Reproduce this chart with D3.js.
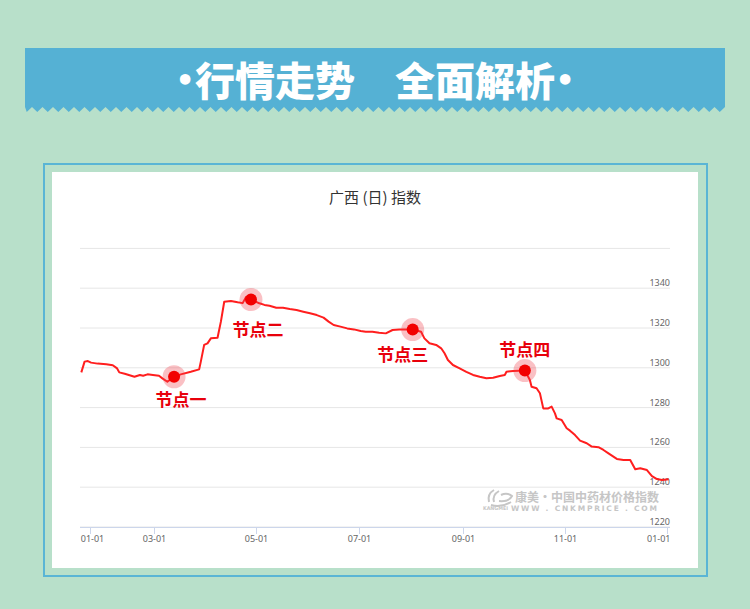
<!DOCTYPE html>
<html><head><meta charset="utf-8">
<script src="https://cdn.jsdelivr.net/npm/d3@7"></script>
<style>
html,body{margin:0;padding:0;background:#b8e0ca;}
svg{display:block;}
</style></head>
<body>
<svg id="chart" width="750" height="609"></svg>
<script>
// ---------- DATA ----------
const bannerTitle = "行情走势　全面解析";
const bannerBullet = "•";
const chartTitle = "广西 (日) 指数";
const dates = [
 "2018-12-24","2018-12-27","2018-12-30","2019-01-02","2019-01-08","2019-01-16","2019-01-22","2019-01-26","2019-01-28",
 "2019-02-02","2019-02-08","2019-02-11","2019-02-16","2019-02-19","2019-02-23","2019-02-28",
 "2019-03-04","2019-03-06","2019-03-09","2019-03-13","2019-03-17","2019-03-23","2019-03-28","2019-03-29","2019-03-31",
 "2019-04-02","2019-04-04","2019-04-08","2019-04-10","2019-04-12","2019-04-16","2019-04-20","2019-04-23","2019-04-25","2019-04-28",
 "2019-05-03","2019-05-06","2019-05-09","2019-05-13","2019-05-17","2019-05-21","2019-05-25","2019-05-29",
 "2019-06-02","2019-06-06","2019-06-10","2019-06-13","2019-06-16","2019-06-20","2019-06-24","2019-06-28",
 "2019-07-02","2019-07-05","2019-07-09","2019-07-13","2019-07-17","2019-07-21","2019-07-25",
 "2019-08-02","2019-08-07","2019-08-09","2019-08-12","2019-08-16","2019-08-19","2019-08-21","2019-08-23","2019-08-26","2019-08-30",
 "2019-09-03","2019-09-07","2019-09-11","2019-09-15","2019-09-19","2019-09-23","2019-09-26","2019-09-27",
 "2019-10-01","2019-10-08","2019-10-11","2019-10-12","2019-10-15","2019-10-17","2019-10-19","2019-10-22","2019-10-24","2019-10-26","2019-10-27","2019-10-30",
 "2019-11-02","2019-11-04","2019-11-07","2019-11-10","2019-11-14","2019-11-17","2019-11-21","2019-11-24","2019-11-27",
 "2019-12-02","2019-12-06","2019-12-10","2019-12-13","2019-12-16","2019-12-20","2019-12-23","2019-12-26","2019-12-29","2020-01-02"
];
const values = [
 1297.7,1303.1,1303.4,1302.6,1302.1,1301.8,1301.3,1299.7,1297.7,
 1297.0,1296.0,1295.5,1296.4,1296.0,1296.7,1296.4,
 1296.0,1294.7,1293.0,1295.5,1296.7,1298.0,1299.2,1303.1,1311.5,
 1312.3,1314.8,1315.1,1323.2,1333.2,1333.6,1332.9,1332.5,1335.5,1334.3,
 1332.4,1331.6,1331.2,1330.2,1330.2,1329.5,1329.0,1328.2,
 1327.4,1326.5,1325.2,1323.2,1321.5,1320.7,1319.8,1319.3,
 1318.5,1318.1,1318.1,1317.6,1317.3,1319.0,1319.3,
 1319.2,1318.1,1314.8,1312.3,1311.5,1309.8,1307.3,1303.9,1301.4,1299.7,
 1298.0,1296.4,1295.5,1294.7,1295.0,1295.9,1296.4,1298.0,
 1298.4,1298.6,1293.9,1290.5,1289.7,1287.2,1279.6,1279.6,1280.5,1277.1,1274.6,1273.8,
 1269.6,1268.4,1266.2,1263.4,1262.1,1260.4,1260.1,1258.7,1257.0,
 1254.2,1253.7,1253.7,1249.0,1249.5,1248.6,1245.6,1244.1,1243.6,1244.0
];
const tickDates = ["2019-01-01","2019-03-01","2019-05-01","2019-07-01","2019-09-01","2019-11-01","2020-01-01"];
const tickLabels = ["01-01","03-01","05-01","07-01","09-01","11-01","01-01"];
const gridValues = [1220,1240,1260,1280,1300,1320,1340,1360];
const yLabelValues = [1220,1240,1260,1280,1300,1320,1340];
const nodeDates = ["2019-03-13","2019-04-28","2019-08-02","2019-10-08"];
const nodeLabels = ["节点一","节点二","节点三","节点四"];
const watermarkCN = "康美·中国中药材价格指数";
const watermarkBrand = "KANGMEI";
const watermarkEN = "WWW . CNKMPRICE . COM";

// ---------- DRAW ----------
const parse = d3.timeParse("%Y-%m-%d");
const series = dates.map((d,i)=>({date:parse(d), value:values[i]}));
const svg = d3.select("#chart");
const CJK = "'Noto Sans CJK SC','Noto Sans',sans-serif";

// Banner
const bannerBlue = "#55b1d4";
const bx0 = 25, bx1 = 725, by0 = 48, by1 = 107, tooth = 10.5, toothH = 5;
let zz = `M${bx0},${by0}L${bx1},${by0}L${bx1},${by1}`;
for (let x = bx1; x > bx0 + 0.1; x -= tooth) {
  const xm = Math.max(bx0, x - tooth/2), xe = Math.max(bx0, x - tooth);
  zz += `L${xm},${by1+toothH}L${xe},${by1}`;
}
zz += "Z";
svg.append("path").attr("d", zz).attr("fill", bannerBlue);
const bt = svg.append("g").attr("fill","#fff");
bt.append("text").attr("x",375).attr("y",96).attr("text-anchor","middle")
  .attr("font-family",CJK).attr("font-weight",900).attr("font-size",40).text(bannerTitle);
bt.selectAll("text.bullet").data([185,565]).join("text").attr("class","bullet")
  .attr("x",d=>d).attr("y",91).attr("text-anchor","middle")
  .attr("font-family","'DejaVu Sans',sans-serif").attr("font-weight",700).attr("font-size",30).text(bannerBullet);

// Panel
svg.append("rect").attr("x",44).attr("y",164).attr("width",663).attr("height",412)
  .attr("fill","#b8e0ca").attr("stroke","#5ab5d5").attr("stroke-width",2);
svg.append("rect").attr("x",52).attr("y",172).attr("width",646).attr("height",396).attr("fill","#fff");

svg.append("text").attr("x",375).attr("y",203).attr("text-anchor","middle")
  .attr("font-family",CJK).attr("font-size",15).attr("fill","#333").text(chartTitle);

// Scales
const x = d3.scaleTime().domain(tickDates.map(parse)).range([90,154,256,359,463,565,667]);
const y = d3.scaleLinear().domain([1220,1360]).range([527,248.4]);
const gx0 = 80, gx1 = 670;

// Gridlines
svg.append("g").selectAll("line").data(gridValues).join("line")
  .attr("x1",gx0).attr("x2",gx1).attr("y1",d=>y(d)).attr("y2",d=>y(d))
  .attr("stroke","#e6e6e6").attr("stroke-width",1);

// Y labels
svg.append("g").selectAll("text").data(yLabelValues).join("text")
  .attr("x",gx1).attr("y",d=>y(d)-2).attr("text-anchor","end")
  .attr("font-family","'Noto Sans',sans-serif").attr("font-size",9).attr("fill","#666")
  .text(d=>d);

// Watermark
const wm = svg.append("g").attr("fill","#c6c6c6");
const lg = wm.append("g").attr("transform","translate(485,490)").attr("fill","none").attr("stroke","#c6c6c6").attr("stroke-width",2);
lg.append("path").attr("d","M4,12 Q2,4 9,0");
lg.append("path").attr("d","M9,12 Q7,5 14,1");
lg.append("path").attr("d","M14,11 Q24,12 27,6 Q22,2 16,5");
lg.append("path").attr("d","M6,15 Q16,18 26,12");
wm.append("text").attr("x",515).attr("y",502).attr("font-family",CJK).attr("font-weight",700)
  .attr("font-size",12).text(watermarkCN);
wm.append("text").attr("x",483).attr("y",510).attr("font-family","'DejaVu Sans',sans-serif").attr("font-weight",700)
  .attr("font-size",5).attr("textLength",25).attr("lengthAdjust","spacingAndGlyphs").text(watermarkBrand);
wm.append("text").attr("x",511).attr("y",510.5).attr("font-family","'DejaVu Sans',sans-serif").attr("font-weight",700)
  .attr("font-size",7.5).attr("textLength",146).attr("lengthAdjust","spacing").text(watermarkEN);

// X axis
const xAxis = d3.axisBottom(x).tickValues(tickDates.map(parse))
  .tickFormat((d,i)=>tickLabels[i]).tickSize(7).tickPadding(2).tickSizeOuter(0);
const gX = svg.append("g").attr("transform","translate(0,527)").call(xAxis);
gX.select(".domain").attr("d",`M${gx0},0.5H${gx1}`).attr("stroke","#ccd6eb");
gX.selectAll(".tick line").attr("stroke","#ccd6eb");
gX.selectAll(".tick text").attr("font-family","'Noto Sans',sans-serif").attr("font-size",9).attr("fill","#666");
gX.selectAll(".tick text").filter((d,i)=>i===tickLabels.length-1).attr("text-anchor","end").attr("dx",3);
gX.selectAll(".tick text").filter((d,i)=>i===0).attr("dx",2);

// Line
const line = d3.line().x(d=>x(d.date)).y(d=>y(d.value));
svg.append("path").datum(series).attr("d",line).attr("fill","none")
  .attr("stroke","#ff1e1e").attr("stroke-width",2).attr("stroke-linejoin","round");

// Nodes
const nodes = nodeDates.map((d,i)=>{
  const t = parse(d);
  const p = series.find(s=>+s.date===+t);
  return {date:t, value:p.value, label:nodeLabels[i]};
});
const labelOffsets = [[7,29],[7,36],[-10,31],[0,-15]];
const ng = svg.append("g");
ng.selectAll("circle.halo").data(nodes).join("circle").attr("class","halo")
  .attr("cx",d=>x(d.date)).attr("cy",d=>y(d.value)).attr("r",11.5).attr("fill","rgba(240,60,70,0.32)");
ng.selectAll("circle.dot").data(nodes).join("circle").attr("class","dot")
  .attr("cx",d=>x(d.date)).attr("cy",d=>y(d.value)).attr("r",6).attr("fill","#f20000");
ng.selectAll("text").data(nodes).join("text")
  .attr("x",(d,i)=>x(d.date)+labelOffsets[i][0]).attr("y",(d,i)=>y(d.value)+labelOffsets[i][1])
  .attr("text-anchor","middle").attr("font-family",CJK).attr("font-weight",700)
  .attr("font-size",17).attr("fill","#e8000b").text(d=>d.label);
</script>
</body></html>
